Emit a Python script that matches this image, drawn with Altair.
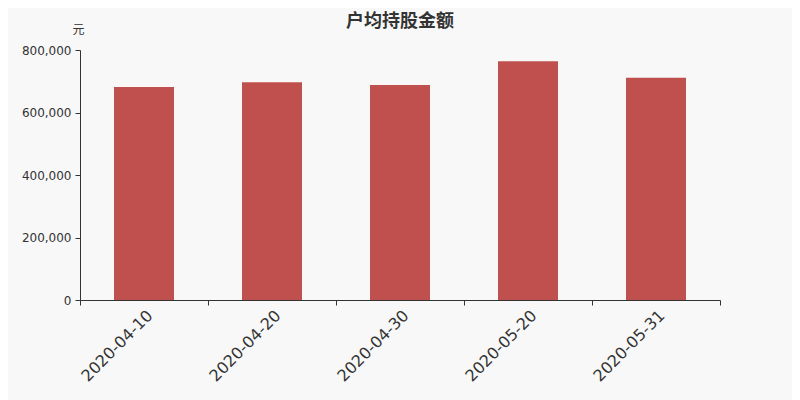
import altair as alt
import pandas as pd

dates = ["2020-04-10", "2020-04-20", "2020-04-30", "2020-05-20", "2020-05-31"]
values = [681600, 696500, 688000, 763700, 711500]

df = pd.DataFrame({"date": dates, "value": values})

cjk = "Noto Sans CJK SC"
lat = "DejaVu Sans"

chart = alt.Chart(df).mark_bar(color="#c0504d", size=60).encode(
    x=alt.X("date:N", sort=None,
            scale=alt.Scale(paddingInner=0, paddingOuter=0),
            axis=alt.Axis(title=None, labelAngle=-45, labelFontSize=16, labelColor="#333333",
                          domainColor="#333333", tickColor="#333333", tickBand="extent",
                          tickSize=5, labelPadding=2, labelFont=lat)),
    y=alt.Y("value:Q", scale=alt.Scale(domain=[0, 800000]),
            axis=alt.Axis(title="元", titleAngle=0, titleAlign="center", titleBaseline="middle",
                          titleX=-2, titleY=-21, titleFontSize=12, titleFontWeight="normal",
                          titleColor="#333333", titleFont=cjk,
                          values=[0, 200000, 400000, 600000, 800000], format=",d",
                          labelFontSize=12, labelColor="#333333", labelFont=lat,
                          domainColor="#333333", tickColor="#333333", tickSize=5,
                          grid=False, labelPadding=4)),
).properties(
    width=640, height=250,
    title=alt.TitleParams("户均持股金额", fontSize=18, fontWeight="bold", color="#333333",
                          font=cjk, offset=-8, anchor="middle"),
    background="#f8f8f8",
    autosize="none",
    padding={"left": 72, "top": 42, "right": 72, "bottom": 100},
).configure_view(stroke=None)

chart.save("out.html", embed_options={"renderer": "svg", "actions": False})
